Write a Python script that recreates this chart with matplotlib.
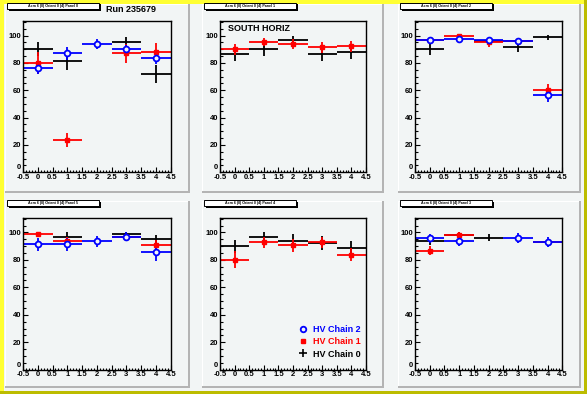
import matplotlib
matplotlib.use('Agg')
import matplotlib.pyplot as plt
from matplotlib.patches import Rectangle
from matplotlib.lines import Line2D
from matplotlib.ticker import MultipleLocator
import numpy as np

nan = np.nan

# ---- data (5 bins per panel) ----
bins = [0, 1, 2, 3, 4]

pad_titles = ['Acm 6 (8) Orient 0 (4) Panel 0', 'Acm 6 (8) Orient 0 (4) Panel 1',
              'Acm 6 (8) Orient 0 (4) Panel 2', 'Acm 6 (8) Orient 0 (4) Panel 5',
              'Acm 6 (8) Orient 0 (4) Panel 4', 'Acm 6 (8) Orient 0 (4) Panel 3']

chain0_val = [[90.0, 81.2, nan, 95.6, 72.0],
              [86.3, 90.0, 96.6, 86.3, 87.8],
              [90.0, nan, 95.9, 91.5, 98.8],
              [nan, 97.0, nan, 98.5, 95.0],
              [89.8, 97.0, 94.1, 92.2, 89.0],
              [94.1, 98.3, 96.1, nan, nan]]
chain0_err = [[5.0, 6.0, nan, 3.4, 6.5],
              [5.0, 5.0, 3.0, 5.0, 5.0],
              [4.0, nan, 2.0, 3.5, 2.0],
              [nan, 3.0, nan, 2.0, 3.0],
              [5.0, 3.0, 5.0, 5.0, 5.0],
              [3.0, 2.0, 2.5, nan, nan]]

chain1_val = [[80.0, 23.4, nan, 87.0, 87.8],
              [90.0, 95.1, 93.9, 91.5, 92.2],
              [96.6, 99.5, 95.0, 96.3, 60.0],
              [98.5, 93.9, nan, 96.6, 90.5],
              [80.2, 92.7, 90.5, 92.7, 83.9],
              [86.8, 98.3, nan, nan, 92.7]]
chain1_err = [[8.0, 5.0, nan, 7.0, 7.0],
              [4.0, 3.0, 4.0, 4.0, 4.0],
              [2.0, 2.0, 3.0, 2.0, 4.5],
              [2.0, 3.0, nan, 2.0, 4.0],
              [6.0, 4.0, 5.0, 4.0, 5.0],
              [3.0, 2.0, nan, nan, 2.0]]

chain2_val = [[76.0, 87.0, 93.9, 90.0, 83.4],
              [nan, nan, nan, nan, nan],
              [97.0, 97.3, 97.0, 96.0, 56.3],
              [91.2, 91.2, 93.4, 97.0, 85.4],
              [nan, nan, nan, nan, nan],
              [95.6, 93.4, nan, 95.9, 93.2]]
chain2_err = [[4.0, 4.5, 3.8, 3.0, 4.0],
              [nan, nan, nan, nan, nan],
              [2.0, 2.5, 2.0, 2.5, 5.0],
              [4.5, 4.5, 4.0, 3.0, 6.0],
              [nan, nan, nan, nan, nan],
              [3.0, 3.5, nan, 3.5, 3.5]]

chain_labels = ['HV Chain 2', 'HV Chain 1', 'HV Chain 0']
xtick_labels = ['-0.5', '0', '0.5', '1', '1.5', '2', '2.5', '3', '3.5', '4', '4.5']
yticks = [0, 20, 40, 60, 80, 100]

# ---- canvas layout (pixels) ----
W, H = 587, 394
pad_x = [(5, 190), (202, 384), (398, 581)]
pad_y = [(4, 193), (201, 388)]
frame_x = [(23, 170.7), (220, 366), (415, 562.3)]
frame_y = [(21.3, 172.3), (218, 369.7)]

bg = '#f2f5f5'
fig = plt.figure(figsize=(W/100, H/100), dpi=100, facecolor=bg)


def fbox(x0, y0, x1, y1):
    # pixel box (top-left origin) -> figure fraction [l, b, w, h]
    return [x0/W, 1 - y1/H, (x1 - x0)/W, (y1 - y0)/H]


def frect(x0, y0, x1, y1, color, z=-5, ec='none', lw=0):
    l, b, w, h = fbox(x0, y0, x1, y1)
    r = Rectangle((l, b), w, h, transform=fig.transFigure, facecolor=color,
                  edgecolor=ec, linewidth=lw, zorder=z)
    fig.add_artist(r)


# canvas border: yellow top/left, olive bottom/right
frect(0, 0, W, 3.5, '#ffff33')
frect(0, 0, 4, H, '#ffff33')
frect(583.5, 0, W, H, '#bcbc00')
frect(0, 390.5, W, H, '#bcbc00')

chains = [(chain0_val, chain0_err, 'black', '+'),
          (chain1_val, chain1_err, '#ff0000', 's'),
          (chain2_val, chain2_err, '#0000ff', 'o')]

for ip in range(6):
    r, c = divmod(ip, 3)
    px0, px1 = pad_x[c]
    py0, py1 = pad_y[r]
    # pad with bevel
    frect(px0, py0, px1, py1, '#b4b4b4')
    frect(px0, py0, px1 - 2.5, py1 - 2.5, 'white')
    frect(px0 + 1, py0 + 1, px1 - 2.5, py1 - 2.5, bg)

    # title box with shadow
    tx0, ty0 = px0 + 2, py0 - 1
    frect(tx0 + 1.5, ty0 + 1.5, tx0 + 93.5, ty0 + 7.5, 'black', z=-1)
    frect(tx0, ty0, tx0 + 92, ty0 + 6, 'white', z=0, ec='black', lw=0.7)
    fig.text((tx0 + 46)/W, 1 - (ty0 + 3)/H, pad_titles[ip], fontsize=2.6,
             fontweight='bold', family='Liberation Sans', ha='center', va='center')

    fx0, fx1 = frame_x[c]
    fy0, fy1 = frame_y[r]
    ax = fig.add_axes(fbox(fx0, fy0, fx1, fy1))
    ax.set_facecolor(bg)
    ax.set_xlim(-0.5, 4.5)
    ax.set_ylim(0, 110.5)

    for vals, errs, col, mk in chains:
        v = np.array(vals[ip])
        e = np.array(errs[ip])
        ok = ~np.isnan(v)
        if not ok.any():
            continue
        x = np.array(bins)[ok]
        if mk == '+':
            ax.errorbar(x, v[ok], xerr=0.5, yerr=e[ok], fmt='none',
                        ecolor=col, elinewidth=1.3, capsize=0)
        elif mk == 's':
            ax.errorbar(x, v[ok], xerr=0.5, yerr=e[ok], fmt='s', ms=2.6,
                        color=col, ecolor=col, elinewidth=1.3, capsize=0)
        else:
            ax.errorbar(x, v[ok], xerr=0.5, yerr=e[ok], fmt='o', ms=4.2,
                        mfc=bg, mec=col, mew=1.3, color=col, ecolor=col,
                        elinewidth=1.3, capsize=0)

    ax.xaxis.set_minor_locator(MultipleLocator(0.1))
    ax.yaxis.set_minor_locator(MultipleLocator(5))
    ax.set_xticks(np.arange(-0.5, 4.6, 0.5))
    ax.set_xticklabels(xtick_labels)
    # the "0" at the corner is drawn separately, a little higher
    ax.set_yticks(yticks)
    ax.set_yticklabels([''] + [str(t) for t in yticks[1:]])
    ax.tick_params(which='both', direction='in', top=False, right=False,
                   width=0.8, labelsize=5.5, pad=1.2)
    ax.tick_params(which='major', length=3.6)
    ax.tick_params(which='minor', length=1.8)
    for lab in ax.get_xticklabels() + ax.get_yticklabels():
        lab.set_fontweight('bold')
        lab.set_family('Liberation Sans')
    for s in ax.spines.values():
        s.set_linewidth(1.0)
    ax.annotate('0', xy=(0, 0), xycoords=('axes fraction', 'data'),
                xytext=(-1.2, 0.6), textcoords='offset points', ha='right',
                va='bottom', fontsize=5.5, fontweight='bold',
                family='Liberation Sans', annotation_clip=False)

    if ip == 1:
        ax.text(0.055, 0.955, 'SOUTH HORIZ', transform=ax.transAxes,
                fontsize=6.5, fontweight='bold', family='Liberation Sans',
                ha='left', va='center')
    if ip == 4:
        handles = [Line2D([], [], ls='none', marker='o', ms=4, mfc=bg,
                          mec='#0000ff', mew=1.3),
                   Line2D([], [], ls='none', marker='s', ms=2.6, color='#ff0000'),
                   Line2D([], [], ls='none', marker='+', ms=6, mew=1.2,
                          color='black')]
        leg = ax.legend(handles, chain_labels, loc='lower left',
                        bbox_to_anchor=(0.48, 0.02), frameon=False,
                        handlelength=1.0, handletextpad=0.6, labelspacing=0.35,
                        prop={'family': 'Liberation Sans', 'weight': 'bold',
                              'size': 6.5})
        for t, col in zip(leg.get_texts(), ['#0000ff', '#ff0000', 'black']):
            t.set_color(col)

fig.text(106/W, 1 - 9/H, 'Run 235679', fontsize=6.5, fontweight='bold',
         family='Liberation Sans', ha='left', va='center')

fig.savefig('out.png', dpi=100, facecolor=bg)
